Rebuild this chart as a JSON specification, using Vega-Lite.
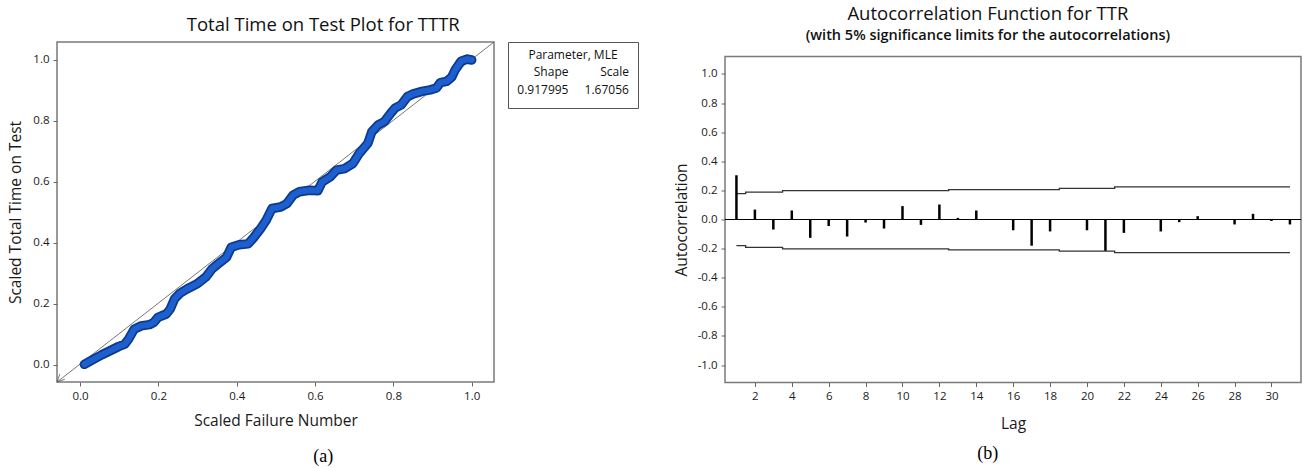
{
  "$schema": "https://vega.github.io/schema/vega-lite/v6.json",
  "padding": {"left": 8, "top": 4, "right": 0, "bottom": 0},
  "background": "white",
  "config": {
    "font": "Open Sans",
    "locale": {"number": {"decimal": ".", "thousands": ",", "grouping": [3], "currency": ["", ""], "minus": "-"}},
    "view": {"stroke": "#7a7a7a", "strokeWidth": 1.5},
    "axis": {"grid": false, "domain": false, "tickColor": "#666666", "tickSize": 4, "tickWidth": 1, "labelFontSize": 11.5, "labelColor": "#1a1a1a", "labelFont": "Open Sans", "titleFont": "Open Sans", "titleFontWeight": "normal", "titleFontSize": 15.5, "titleColor": "#1a1a1a", "labelPadding": 4, "labelOverlap": false},
    "title": {"font": "Open Sans", "fontWeight": "normal", "color": "#111111"}
  },
  "datasets": {
    "ttt": [
      {"x":0.011,"y":0.002},{"x":0.029,"y":0.015},{"x":0.055,"y":0.033},{"x":0.076,"y":0.046},{"x":0.098,"y":0.060},{"x":0.114,"y":0.068},{"x":0.124,"y":0.085},{"x":0.138,"y":0.117},{"x":0.156,"y":0.128},{"x":0.177,"y":0.132},{"x":0.188,"y":0.139},{"x":0.199,"y":0.156},{"x":0.220,"y":0.167},{"x":0.230,"y":0.183},{"x":0.241,"y":0.216},{"x":0.255,"y":0.235},{"x":0.273,"y":0.249},{"x":0.299,"y":0.266},{"x":0.321,"y":0.288},{"x":0.337,"y":0.315},{"x":0.352,"y":0.331},{"x":0.374,"y":0.353},{"x":0.386,"y":0.386},{"x":0.406,"y":0.394},{"x":0.429,"y":0.397},{"x":0.443,"y":0.417},{"x":0.461,"y":0.447},{"x":0.475,"y":0.474},{"x":0.490,"y":0.513},{"x":0.512,"y":0.518},{"x":0.528,"y":0.529},{"x":0.544,"y":0.557},{"x":0.560,"y":0.568},{"x":0.586,"y":0.573},{"x":0.607,"y":0.571},{"x":0.618,"y":0.600},{"x":0.639,"y":0.617},{"x":0.655,"y":0.639},{"x":0.676,"y":0.644},{"x":0.697,"y":0.661},{"x":0.713,"y":0.694},{"x":0.735,"y":0.727},{"x":0.745,"y":0.765},{"x":0.761,"y":0.787},{"x":0.777,"y":0.798},{"x":0.793,"y":0.825},{"x":0.804,"y":0.842},{"x":0.820,"y":0.853},{"x":0.836,"y":0.880},{"x":0.851,"y":0.889},{"x":0.873,"y":0.897},{"x":0.894,"y":0.902},{"x":0.910,"y":0.908},{"x":0.920,"y":0.926},{"x":0.936,"y":0.930},{"x":0.949,"y":0.944},{"x":0.958,"y":0.968},{"x":0.973,"y":0.996},{"x":0.989,"y":1.003},{"x":1.0,"y":1.0}
    ],
    "diag": [{"x":-0.059,"y":-0.056},{"x":1.057,"y":1.059}],
    "arrow": [{"x":-0.0465,"y":-0.040}],
    "params": [
      {"row":2,"col":1,"label":"Shape"},{"row":2,"col":2,"label":"Scale"},
      {"row":3,"col":1,"label":"0.917995"},{"row":3,"col":2,"label":"1.67056"}
    ],
    "acf": [
      {"lag":1,"r":0.304},{"lag":2,"r":0.068},{"lag":3,"r":-0.069},{"lag":4,"r":0.062},{"lag":5,"r":-0.126},{"lag":6,"r":-0.045},{"lag":7,"r":-0.117},{"lag":8,"r":-0.021},{"lag":9,"r":-0.062},{"lag":10,"r":0.092},{"lag":11,"r":-0.037},{"lag":12,"r":0.103},{"lag":13,"r":0.011},{"lag":14,"r":0.062},{"lag":15,"r":-0.002},{"lag":16,"r":-0.074},{"lag":17,"r":-0.18},{"lag":18,"r":-0.082},{"lag":19,"r":0.003},{"lag":20,"r":-0.074},{"lag":21,"r":-0.215},{"lag":22,"r":-0.092},{"lag":23,"r":-0.003},{"lag":24,"r":-0.082},{"lag":25,"r":-0.018},{"lag":26,"r":0.023},{"lag":27,"r":0.002},{"lag":28,"r":-0.034},{"lag":29,"r":0.039},{"lag":30,"r":-0.01},{"lag":31,"r":-0.034}
    ],
    "limits": [
      {"lag":1,"upper":0.178,"lower":-0.180},{"lag":2,"upper":0.188,"lower":-0.192},{"lag":3,"upper":0.188,"lower":-0.192},{"lag":4,"upper":0.198,"lower":-0.202},{"lag":5,"upper":0.198,"lower":-0.202},{"lag":6,"upper":0.198,"lower":-0.202},{"lag":7,"upper":0.198,"lower":-0.202},{"lag":8,"upper":0.198,"lower":-0.202},{"lag":9,"upper":0.198,"lower":-0.202},{"lag":10,"upper":0.198,"lower":-0.202},{"lag":11,"upper":0.198,"lower":-0.202},{"lag":12,"upper":0.198,"lower":-0.202},{"lag":13,"upper":0.205,"lower":-0.209},{"lag":14,"upper":0.205,"lower":-0.209},{"lag":15,"upper":0.205,"lower":-0.209},{"lag":16,"upper":0.205,"lower":-0.209},{"lag":17,"upper":0.205,"lower":-0.209},{"lag":18,"upper":0.205,"lower":-0.209},{"lag":19,"upper":0.214,"lower":-0.217},{"lag":20,"upper":0.214,"lower":-0.217},{"lag":21,"upper":0.214,"lower":-0.217},{"lag":22,"upper":0.224,"lower":-0.227},{"lag":23,"upper":0.224,"lower":-0.227},{"lag":24,"upper":0.224,"lower":-0.227},{"lag":25,"upper":0.224,"lower":-0.227},{"lag":26,"upper":0.224,"lower":-0.227},{"lag":27,"upper":0.224,"lower":-0.227},{"lag":28,"upper":0.224,"lower":-0.227},{"lag":29,"upper":0.224,"lower":-0.227},{"lag":30,"upper":0.224,"lower":-0.227},{"lag":31,"upper":0.224,"lower":-0.227}
    ]
  },
  "spacing": 34,
  "hconcat": [
    {
      "title": {"text": "(a)", "orient": "bottom", "font": "Liberation Serif", "fontSize": 18, "anchor": "middle", "frame": "bounds", "offset": 18, "color": "#000000"},
      "vconcat": [
        {
          "title": {"text": "Total Time on Test Plot for TTTR", "fontSize": 18.5, "anchor": "middle", "frame": "bounds", "offset": 7},
          "spacing": 12,
          "hconcat": [
            {
              "width": 437,
              "height": 340,
              "layer": [
                {
                  "data": {"name": "diag"},
                  "mark": {"type": "line", "color": "#555555", "strokeWidth": 0.8, "clip": true},
                  "encoding": {
                    "x": {"field": "x", "type": "quantitative", "title": "Scaled Failure Number", "scale": {"domain": [-0.059, 1.057], "nice": false, "zero": false}, "axis": {"values": [0, 0.2, 0.4, 0.6, 0.8, 1], "tickCount": 12, "format": ".1f", "titlePadding": 12}},
                    "y": {"field": "y", "type": "quantitative", "title": "Scaled Total Time on Test", "scale": {"domain": [-0.056, 1.059], "nice": false, "zero": false}, "axis": {"values": [0, 0.2, 0.4, 0.6, 0.8, 1], "tickCount": 12, "format": ".1f", "titlePadding": 9}}
                  }
                },
                {
                  "data": {"name": "arrow"},
                  "mark": {"type": "point", "shape": "M 0.43 0.29 L -0.7 0.7 L -0.29 -0.43", "filled": false, "color": "#555555", "strokeWidth": 0.8, "size": 196, "opacity": 1},
                  "encoding": {
                    "x": {"field": "x", "type": "quantitative", "title": "Scaled Failure Number"},
                    "y": {"field": "y", "type": "quantitative", "title": "Scaled Total Time on Test"}
                  }
                },
                {
                  "data": {"name": "ttt"},
                  "mark": {"type": "line", "color": "#0c3a8c", "strokeWidth": 9.5, "strokeCap": "round", "strokeJoin": "round"},
                  "encoding": {
                    "x": {"field": "x", "type": "quantitative", "title": "Scaled Failure Number"},
                    "y": {"field": "y", "type": "quantitative", "title": "Scaled Total Time on Test"}
                  }
                },
                {
                  "data": {"name": "ttt"},
                  "mark": {"type": "line", "color": "#1e5fcf", "strokeWidth": 6, "strokeCap": "round", "strokeJoin": "round"},
                  "encoding": {
                    "x": {"field": "x", "type": "quantitative", "title": "Scaled Failure Number"},
                    "y": {"field": "y", "type": "quantitative", "title": "Scaled Total Time on Test"}
                  }
                }
              ]
            },
            {
              "width": 130,
              "height": 66,
              "view": {"stroke": "#555555", "strokeWidth": 1},
              "layer": [
                {
                  "data": {"values": [{"row": 1, "label": "Parameter, MLE"}]},
                  "mark": {"type": "text", "fontSize": 12, "color": "#111111", "baseline": "middle", "align": "center"},
                  "encoding": {
                    "y": {"field": "row", "type": "quantitative", "scale": {"domain": [0.26, 4.03], "reverse": true, "nice": false, "zero": false}, "axis": null},
                    "text": {"field": "label"}
                  }
                },
                {
                  "data": {"name": "params"},
                  "mark": {"type": "text", "fontSize": 12, "color": "#111111", "baseline": "middle", "align": "right"},
                  "encoding": {
                    "x": {"field": "col", "type": "quantitative", "scale": {"domain": [0, 2.15], "nice": false, "zero": false}, "axis": null},
                    "y": {"field": "row", "type": "quantitative", "axis": null},
                    "text": {"field": "label"}
                  }
                }
              ]
            }
          ]
        }
      ]
    },
    {
      "title": {"text": "(b)", "orient": "bottom", "font": "Liberation Serif", "fontSize": 18, "anchor": "middle", "frame": "bounds", "offset": 13, "color": "#000000"},
      "vconcat": [
        {
          "title": {"text": "Autocorrelation Function for TTR", "subtitle": "(with 5% significance limits for the autocorrelations)", "fontSize": 18.5, "subtitleFont": "Open Sans", "subtitleFontSize": 14.5, "subtitleFontWeight": 600, "subtitleColor": "#111111", "subtitlePadding": 6, "anchor": "middle", "frame": "bounds", "offset": -6},
          "spacing": 7.5,
          "vconcat": [
            {
              "width": 576,
              "height": 1,
              "view": {"stroke": null},
              "data": {"values": [{"t": ""}]},
              "mark": {"type": "text"},
              "encoding": {"text": {"field": "t"}}
            },
            {
              "width": 576,
              "height": 326,
              "layer": [
                {
                  "data": {"values": [{"z": 0}]},
                  "mark": {"type": "rule", "color": "#000000", "strokeWidth": 1.2},
                  "encoding": {
                    "y": {"field": "z", "type": "quantitative", "title": "Autocorrelation", "axis": {"values": [-1, -0.8, -0.6, -0.4, -0.2, 0, 0.2, 0.4, 0.6, 0.8, 1], "tickCount": 20, "format": ".1f", "titlePadding": 8}}
                  }
                },
                {
                  "data": {"name": "limits"},
                  "mark": {"type": "line", "interpolate": "step", "color": "#333333", "strokeWidth": 1.3},
                  "encoding": {
                    "x": {"field": "lag", "type": "quantitative", "title": "Lag"},
                    "y": {"field": "upper", "type": "quantitative", "title": "Autocorrelation"}
                  }
                },
                {
                  "data": {"name": "limits"},
                  "mark": {"type": "line", "interpolate": "step", "color": "#333333", "strokeWidth": 1.3},
                  "encoding": {
                    "x": {"field": "lag", "type": "quantitative", "title": "Lag"},
                    "y": {"field": "lower", "type": "quantitative", "title": "Autocorrelation"}
                  }
                },
                {
                  "data": {"name": "acf"},
                  "mark": {"type": "rule", "color": "#000000", "strokeWidth": 2.5},
                  "encoding": {
                    "x": {"field": "lag", "type": "quantitative", "title": "Lag", "scale": {"domain": [0.38, 31.6], "nice": false, "zero": false}, "axis": {"values": [2,4,6,8,10,12,14,16,18,20,22,24,26,28,30], "tickCount": 20, "titlePadding": 14}},
                    "y": {"field": "r", "type": "quantitative", "title": "Autocorrelation", "scale": {"domain": [-1.12, 1.12], "nice": false, "zero": false}, "axis": {"values": [-1, -0.8, -0.6, -0.4, -0.2, 0, 0.2, 0.4, 0.6, 0.8, 1], "tickCount": 20, "format": ".1f", "titlePadding": 8}},
                    "y2": {"datum": 0}
                  }
                }
              ]
            }
          ]
        }
      ]
    }
  ]
}
